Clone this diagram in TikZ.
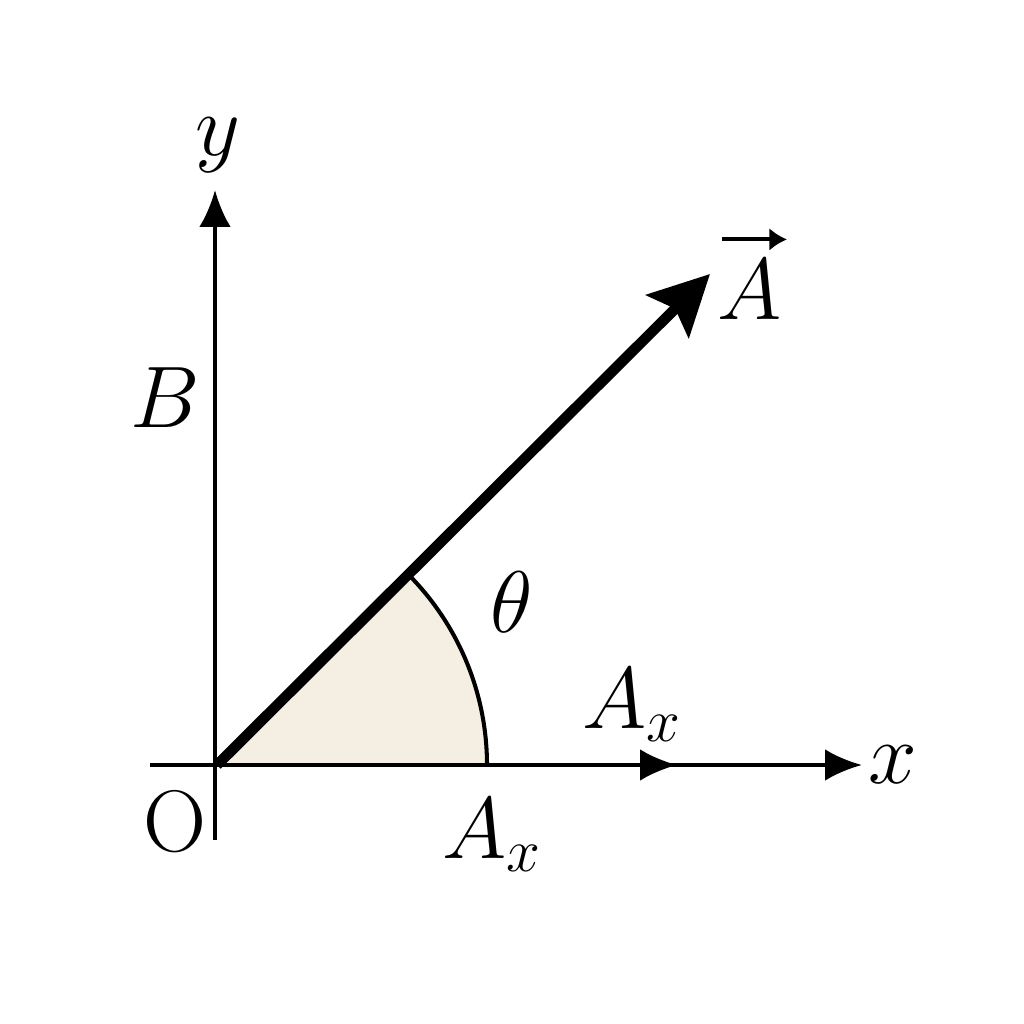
\documentclass[tikz,border=0pt]{standalone}
\usepackage{amsmath, amssymb}
\usepackage{tikz}
\usetikzlibrary{positioning, arrows.meta}

\definecolor{sectorfill}{HTML}{F5EEE2}
\tikzset{
	axis/.style={line width=1.15pt, -{Latex[length=10.5pt, width=9pt]}},
	vecline/.style={line width=3pt, -{Stealth[length=17pt, width=17pt, inset=3pt]}},
	lbl/.style={font=\fontsize{23}{28}\selectfont, inner sep=0pt}
}

\begin{document}
\begin{tikzpicture}
	\useasboundingbox (0, 0) rectangle (10.24, 10.24);
	
	\coordinate (O) at (2.17, 2.59);
	\coordinate (xleft) at (1.50, 2.59);
	\coordinate (xright) at (8.62, 2.59);
	\coordinate (xmid) at (6.77, 2.59);
	\coordinate (ybottom) at (2.15, 1.84);
	\coordinate (ytop) at (2.15, 8.34);
	\coordinate (Atip) at (7.10, 7.50);
	
	% angle sector
	\fill[sectorfill] (O) -- +(0:2.70) arc[start angle=0, end angle=45, radius=2.70] -- cycle;
	\draw[line width=1.15pt] (O) ++(0:2.70) arc[start angle=0, end angle=45, radius=2.70];
	
	% axes
	\draw[axis] (ybottom) -- (ytop);
	\draw[axis] (xleft) -- (xright);
	\draw[axis] (O) -- (xmid);
	
	% vector
	\draw[vecline] (O) -- (Atip);
	
	\foreach \n/\p/\t in {ylab/{2.18, 8.79}/$y$, xlab/{8.93, 2.59}/$x$, Blab/{1.65, 6.26}/$B$,
		thetalab/{5.12, 4.22}/$\theta$, Axup/{6.32, 3.19}/$A_x$, Axdown/{4.92, 1.89}/$A_x$,
		Olab/{1.75, 2.02}/$\mathrm{O}$, Alab/{7.50, 7.34}/$A$} {
		\node[lbl] (\n) at (\p) {\t};
	};
	% arrow over the vector name
	\draw[line width=1.1pt, -{Latex[length=5pt, width=6.5pt]}] ([xshift=-0.28cm, yshift=0.2cm]Alab.north) -- ++(0.65, 0);
\end{tikzpicture}
\end{document}
